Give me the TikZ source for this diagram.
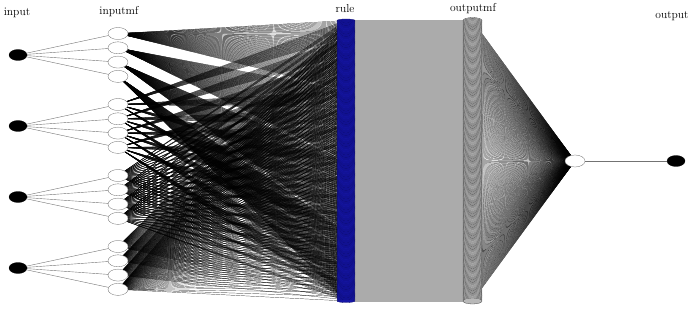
\documentclass[tikz,border=0pt]{standalone}
\usetikzlibrary{shapes.geometric, backgrounds}
\definecolor{rblue}{HTML}{1616A6}
\definecolor{rblueedge}{HTML}{0A0A6E}
\tikzset{
  every picture/.style={line width=0.3pt},
  innode/.style={ellipse, draw=black, fill=black, minimum width=18pt, minimum height=11pt, inner sep=0pt},
  mfnode/.style={ellipse, draw=black!60, fill=white, minimum width=20pt, minimum height=12pt, inner sep=0pt},
  rulenode/.style={ellipse, draw=rblueedge, fill=rblue, minimum width=18pt, minimum height=3pt, inner sep=0pt},
  omfnode/.style={ellipse, draw=black!70, fill=black!28, minimum width=19pt, minimum height=6pt, inner sep=0pt},
  link/.style={draw=black!55, line width=0.4pt},
  wire/.style={draw=black, line width=0.2pt},
  hwire/.style={draw=black!33, line width=1.2pt},
  lbl/.style={font=\fontsize{11.5}{13}\selectfont, inner sep=1pt},
}

\begin{document}
\begin{tikzpicture}[x=1pt, y=-1pt]
  \useasboundingbox (0,0) rectangle (691,310);
  % layer titles
  \node[lbl] (tin) at (17,13) {input};
  \node[lbl] (tmf) at (119,12) {inputmf};
  \node[lbl] (trule) at (345,9) {rule};
  \node[lbl] (tomf) at (473,9) {outputmf};
  \node[lbl] (tout) at (672,16) {output};
  % inputs and their membership functions
  \foreach \k in {1,...,4} {
    \node[innode] (in\k) at (18,{55+71*(\k-1)}) {};
    \foreach \j in {1,...,4} {
      \node[mfnode] (imf\k\j) at (118,{55+71*(\k-1)-21.5+14.3*(\j-1)}) {};
      \draw[link] (in\k) -- (imf\k\j);
    }
  }
  % output side
  \node[mfnode] (o) at (575,161) {};
  \node[innode] (out) at (676,161) {};
  \draw[link] (o) -- (out);
  % 256 rules and their output mfs
  \foreach \i in {0,...,255} {
    \node[rulenode] (r\i) at (346,{20.5+\i*1.1}) {};
    \node[omfnode] (omf\i) at (472.5,{20.5+\i*1.1}) {};
  }
  % one rule per combination of input mfs
  \begin{scope}[on background layer]
    \foreach \i in {0,...,255} {
      \pgfmathtruncatemacro\ma{int(\i/64)+1}
      \pgfmathtruncatemacro\mb{mod(int(\i/16),4)+1}
      \pgfmathtruncatemacro\mc{mod(int(\i/4),4)+1}
      \pgfmathtruncatemacro\md{mod(\i,4)+1}
      \draw[wire] (imf1\ma) -- (r\i);
      \draw[wire] (imf2\mb) -- (r\i);
      \draw[wire] (imf3\mc) -- (r\i);
      \draw[wire] (imf4\md) -- (r\i);
      \draw[hwire] (r\i) -- (omf\i);
      \draw[wire] (omf\i) -- (o);
    }
  \end{scope}
\end{tikzpicture}
\end{document}
